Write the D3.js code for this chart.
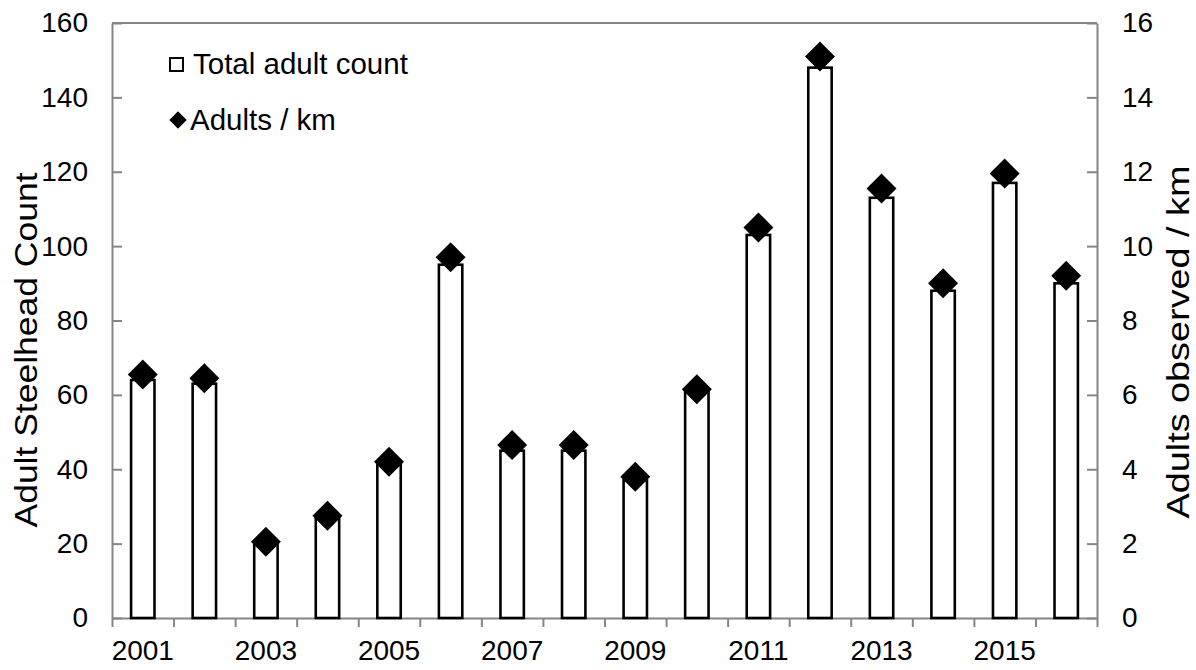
<!DOCTYPE html>
<html>
<head>
<meta charset="utf-8">
<script src="https://cdn.jsdelivr.net/npm/d3@7"></script>
<style>
  body { margin: 0; background: #fff; }
  svg { display: block; font-family: "Liberation Sans", Arial, sans-serif; }
</style>
</head>
<body>
<svg id="chart" width="1196" height="670"></svg>
<script>
// data
const years = [2001, 2002, 2003, 2004, 2005, 2006, 2007, 2008, 2009, 2010, 2011, 2012, 2013, 2014, 2015, 2016];
const totalCount = [64, 63, 20, 27, 42, 95, 45, 45, 37, 61, 103, 148, 113, 88, 117, 90];
const adultsPerKm = [6.55, 6.45, 2.05, 2.75, 4.2, 9.7, 4.65, 4.65, 3.8, 6.15, 10.5, 15.1, 11.55, 9.0, 11.95, 9.2];
const leftTicks = [0, 20, 40, 60, 80, 100, 120, 140, 160];
const rightTicks = [0, 2, 4, 6, 8, 10, 12, 14, 16];
const yearLabels = [2001, 2003, 2005, 2007, 2009, 2011, 2013, 2015];

const W = 1196, H = 670;
const margin = { top: 23, right: 99, bottom: 52, left: 112 };
const axisColor = "#858585";
const tickFont = 28;

const svg = d3.select("#chart");

const x = d3.scaleBand()
  .domain(years)
  .range([margin.left, W - margin.right])
  .paddingInner(0.62)
  .paddingOuter(0.31);

const yL = d3.scaleLinear().domain([0, 160]).range([H - margin.bottom, margin.top]);
const yR = d3.scaleLinear().domain([0, 16]).range([H - margin.bottom, margin.top]);

// top frame line
svg.append("line")
  .attr("x1", margin.left).attr("x2", W - margin.right)
  .attr("y1", margin.top).attr("y2", margin.top)
  .attr("stroke", axisColor).attr("stroke-width", 2);

// left axis, ticks pointing in
const gL = svg.append("g")
  .attr("transform", `translate(${margin.left},0)`)
  .call(d3.axisLeft(yL).tickValues(leftTicks).tickSizeInner(-10).tickSizeOuter(0).tickPadding(24));

// right axis, ticks pointing in
const gR = svg.append("g")
  .attr("transform", `translate(${W - margin.right},0)`)
  .call(d3.axisRight(yR).tickValues(rightTicks).tickSizeInner(-10).tickSizeOuter(0).tickPadding(25));

// bottom axis: ticks on the band edges, labels on every other year
const xEdge = d3.scaleLinear().domain([0, years.length]).range([margin.left, W - margin.right]);
const gB = svg.append("g")
  .attr("transform", `translate(0,${H - margin.bottom})`)
  .call(d3.axisBottom(xEdge).tickValues(d3.range(0, years.length + 1)).tickSize(9).tickSizeOuter(0).tickFormat(""));

svg.append("g")
  .selectAll("text")
  .data(yearLabels)
  .join("text")
  .attr("x", d => x(d) + x.bandwidth() / 2)
  .attr("y", H - margin.bottom + 42)
  .attr("text-anchor", "middle")
  .attr("font-size", tickFont)
  .attr("fill", "#000")
  .text(d => d);

[gL, gR, gB].forEach(g => {
  g.select(".domain").attr("stroke", axisColor).attr("stroke-width", 2);
  g.selectAll(".tick line").attr("stroke", axisColor).attr("stroke-width", 2);
  g.selectAll(".tick text").attr("font-size", tickFont).attr("fill", "#000")
    .attr("font-family", "Liberation Sans, Arial, sans-serif");
});

// bars
svg.append("g")
  .selectAll("rect")
  .data(years)
  .join("rect")
  .attr("x", d => x(d))
  .attr("width", x.bandwidth())
  .attr("y", (d, i) => yL(totalCount[i]))
  .attr("height", (d, i) => yL(0) - yL(totalCount[i]))
  .attr("fill", "#fff")
  .attr("stroke", "#000")
  .attr("stroke-width", 2.6);

// diamonds
const diamond = d3.symbol().type(d3.symbolSquare).size(450);
svg.append("g")
  .selectAll("path")
  .data(years)
  .join("path")
  .attr("d", diamond)
  .attr("transform", (d, i) => `translate(${x(d) + x.bandwidth() / 2},${yR(adultsPerKm[i])}) rotate(45)`)
  .attr("fill", "#000");

// legend
const lg = svg.append("g");
lg.append("rect")
  .attr("x", 170).attr("y", 58).attr("width", 13).attr("height", 13)
  .attr("fill", "#fff").attr("stroke", "#000").attr("stroke-width", 2);
lg.append("text")
  .attr("x", 193).attr("y", 74)
  .attr("font-size", 29.5)
  .text("Total adult count");
lg.append("path")
  .attr("d", d3.symbol().type(d3.symbolSquare).size(150))
  .attr("transform", "translate(178,120) rotate(45)")
  .attr("fill", "#000");
lg.append("text")
  .attr("x", 190).attr("y", 130)
  .attr("font-size", 29.5)
  .text("Adults / km");

// axis titles
svg.append("text")
  .attr("transform", "translate(37,350) rotate(-90)")
  .attr("text-anchor", "middle")
  .attr("font-size", 31)
  .attr("textLength", 355)
  .attr("lengthAdjust", "spacingAndGlyphs")
  .text("Adult Steelhead Count");

svg.append("text")
  .attr("transform", "translate(1189,342) rotate(-90)")
  .attr("text-anchor", "middle")
  .attr("font-size", 31)
  .attr("textLength", 353)
  .attr("lengthAdjust", "spacingAndGlyphs")
  .text("Adults observed / km");
</script>
</body>
</html>
